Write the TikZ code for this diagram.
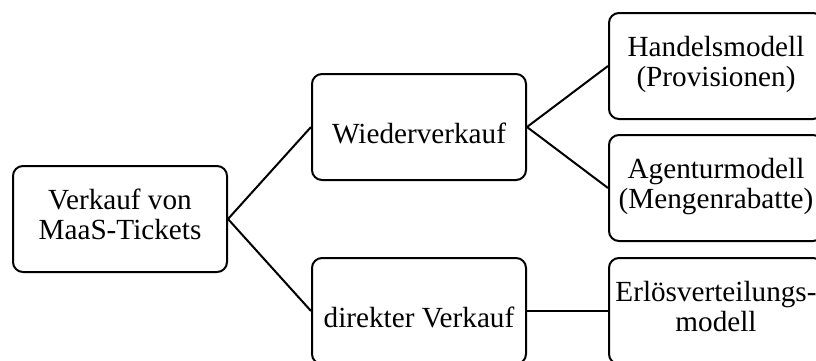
\documentclass[tikz,border=0pt]{standalone}
\usepackage{fontspec}
\setmainfont{Liberation Serif}

\tikzset{
  kasten/.style={draw, line width=1pt, rounded corners=5pt, align=center,
    minimum width=107pt, minimum height=53pt, inner sep=2pt,
    font=\fontsize{14.6}{15}\selectfont,
    execute at begin node={\rule{0pt}{20.5pt}},
    execute at end node={\rule[-4.5pt]{0pt}{4.5pt}}},
  ast/.style={line width=1pt}
}

\begin{document}
\begin{tikzpicture}[x=0.5pt,y=-0.5pt]
      \clip (0,0) rectangle (816,360);
      \node[kasten] (verkauf) at (120,219) {Verkauf von\\MaaS-Tickets};
      \node[kasten] (wieder) at (419,127) {Wiederverkauf};
      \node[kasten] (direkt) at (419,311) {direkter Verkauf};
      \node[kasten] (handel) at (716,66) {Handelsmodell\\(Provisionen)};
      \node[kasten] (agentur) at (716,188) {Agenturmodell\\(Mengenrabatte)};
      \node[kasten] (erloes) at (716,311) {Erlösverteilungs-\\modell};
      \draw[ast] (verkauf.east) -- (wieder.west);
      \draw[ast] (verkauf.east) -- (direkt.west);
      \draw[ast] (wieder.east) -- (handel.west);
      \draw[ast] (wieder.east) -- (agentur.west);
      \draw[ast] (direkt.east) -- (erloes.west);
    \end{tikzpicture}
\end{document}
